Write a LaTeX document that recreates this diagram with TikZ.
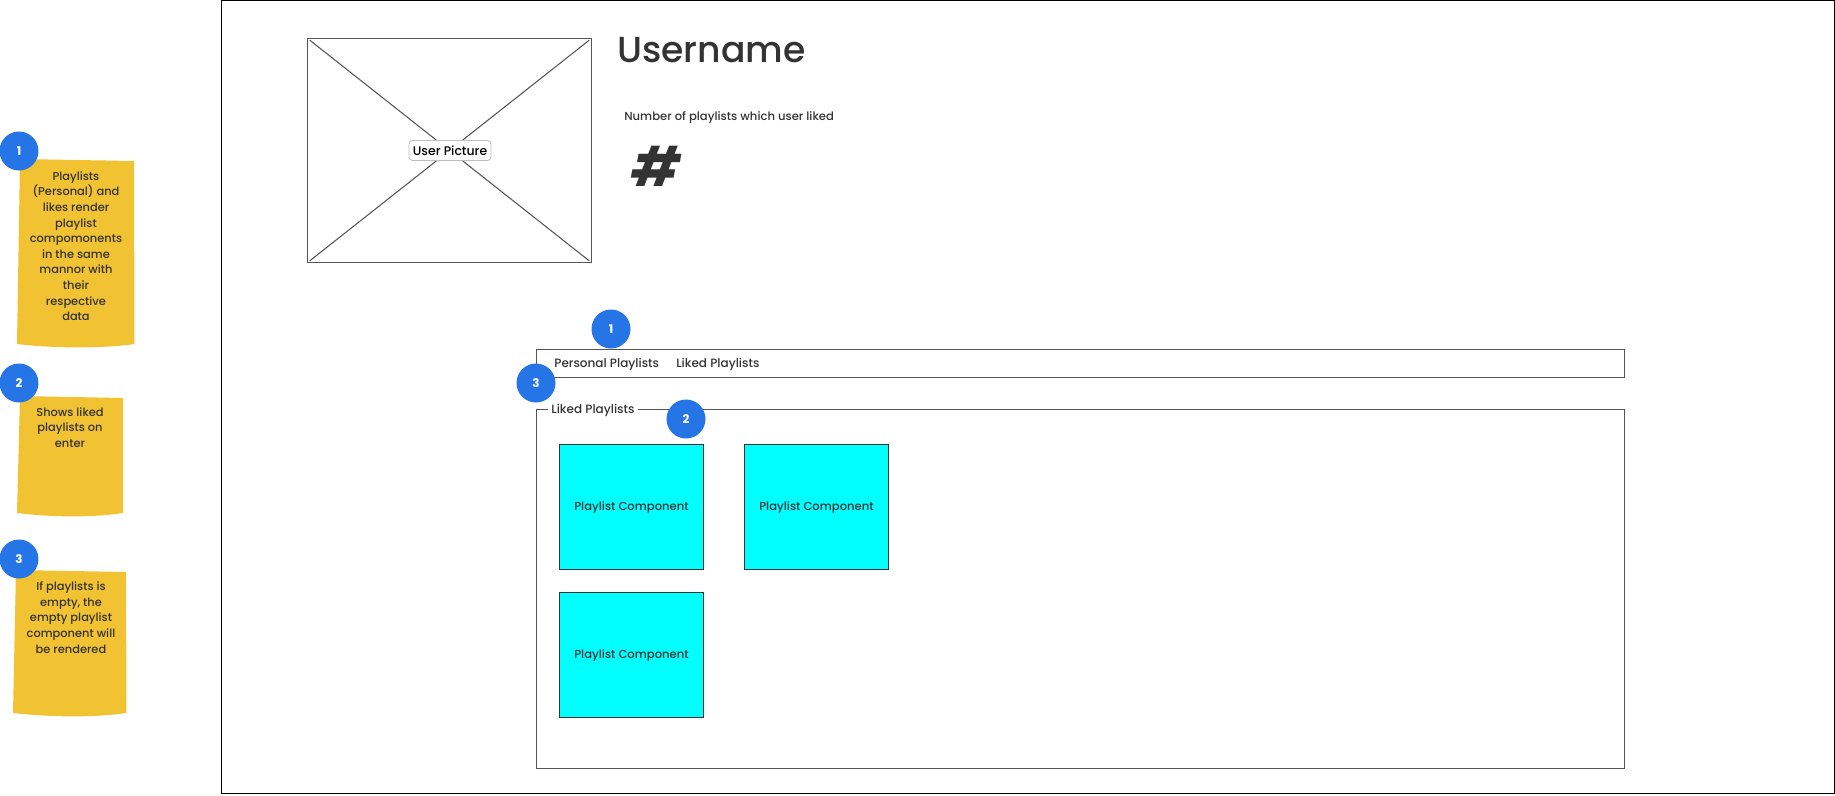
\documentclass[tikz,border=0pt]{standalone}
\usepackage{fontspec}
\setmainfont{Poppins}
\newfontfamily\heavyfont{Poppins Medium}
\definecolor{NoteYellow}{RGB}{241,194,50}
\definecolor{BadgeBlue}{RGB}{38,117,230}
\definecolor{InkGray}{RGB}{51,51,51}
\definecolor{LineGray}{RGB}{85,85,85}
\definecolor{CardCyan}{RGB}{0,255,255}
\tikzset{
  frame/.style={draw=LineGray,line width=0.6pt,anchor=north west,inner sep=0pt},
  card/.style={draw=InkGray,line width=0.6pt,fill=CardCyan,anchor=north west,inner sep=0pt,
    minimum width=2.88cm,minimum height=2.5cm,text depth=0.6pt,text=InkGray,font=\heavyfont\fontsize{6.6pt}{9pt}\selectfont},
  badge/.style={circle,fill=BadgeBlue,text=white,inner sep=0pt,minimum size=0.78cm,font=\bfseries\fontsize{6.8pt}{8pt}\selectfont},
  note/.style={fill=NoteYellow},
  notetext/.style={anchor=north,align=center,inner sep=0pt,text=InkGray,font=\heavyfont\fontsize{6.5pt}{8.9pt}\selectfont},
  lab/.style={inner sep=0pt,text=InkGray,font=\heavyfont\fontsize{6.85pt}{9pt}\selectfont},
}
\begin{document}
\begin{tikzpicture}[x=0.02cm,y=-0.02cm]
\useasboundingbox (0,0) rectangle (1835,795);
% sticky notes
\fill[note] (20,159) -- (134,161) -- (134.5,344) .. controls (100,349) and (50,348) .. (17,344) -- cycle;
\fill[note] (20,396) -- (123,398) -- (123,513) .. controls (90,518) and (50,517) .. (17,513) -- cycle;
\fill[note] (16,570) -- (126,572) -- (126.5,713) .. controls (90,718) and (50,717) .. (13,713) -- cycle;
\node[notetext] (noteA) at (76,171) {Playlists\\(Personal) and\\likes render\\playlist\\compomonents\\in the same\\mannor with\\their\\respective\\data};
\node[notetext] (noteB) at (70,407) {Shows liked\\playlists on\\enter};
\node[notetext] (noteC) at (71,581.5) {If playlists is\\empty, the\\empty playlist\\component will\\be rendered};
\node[badge] (sideA) at (19,151) {1};
\node[badge] (sideB) at (19,383) {2};
\node[badge] (sideC) at (19,559) {3};
% page
\node[frame,draw=black,minimum width=32.26cm,minimum height=15.86cm] (page) at (221,0) {};
\node[frame,minimum width=5.68cm,minimum height=4.48cm] (picture) at (307,38) {};
\draw[LineGray,line width=0.6pt,shorten <=2pt,shorten >=2pt] (picture.north west) -- (picture.south east);
\draw[LineGray,line width=0.6pt,shorten <=2pt,shorten >=2pt] (picture.north east) -- (picture.south west);
\node[draw=black!25,fill=white,rounded corners=2pt,line width=0.5pt,inner sep=0pt,minimum width=1.64cm,minimum height=0.4cm,text=black,font=\heavyfont\fontsize{7.1pt}{9pt}\selectfont] (pictureLabel) at (450,150.5) {User Picture};
\node[lab,anchor=base west,font=\heavyfont\fontsize{20.6pt}{24pt}\selectfont] (username) at (617,62) {Username};
\node[lab,anchor=base west,font=\heavyfont\fontsize{6.6pt}{8pt}\selectfont] (likedCount) at (624,120) {Number of playlists which user liked};
\node[lab,anchor=base west,font=\fontsize{31pt}{34pt}\selectfont\bfseries\itshape] (hash) at (631,186.5) {\#};
% tabs
\node[frame,minimum width=21.76cm,minimum height=0.56cm] (tabs) at (536,349) {};
\node[lab,anchor=base west] (tabPersonal) at (554,367) {Personal Playlists};
\node[lab,anchor=base west] (tabLiked) at (676,367) {Liked Playlists};
% liked playlists group
\node[frame,minimum width=21.76cm,minimum height=7.18cm] (group) at (536,409) {};
\node[lab,fill=white,inner xsep=2pt,inner ysep=1pt] (groupLabel) at (593,410) {Liked Playlists};
\node[card] (cardA) at (559,444) {Playlist Component};
\node[card] (cardB) at (744,444) {Playlist Component};
\node[card] (cardC) at (559,592) {Playlist Component};
% markers
\node[badge] (markA) at (611,329) {1};
\node[badge] (markB) at (686,419) {2};
\node[badge] (markC) at (536,383) {3};
\end{tikzpicture}
\end{document}
